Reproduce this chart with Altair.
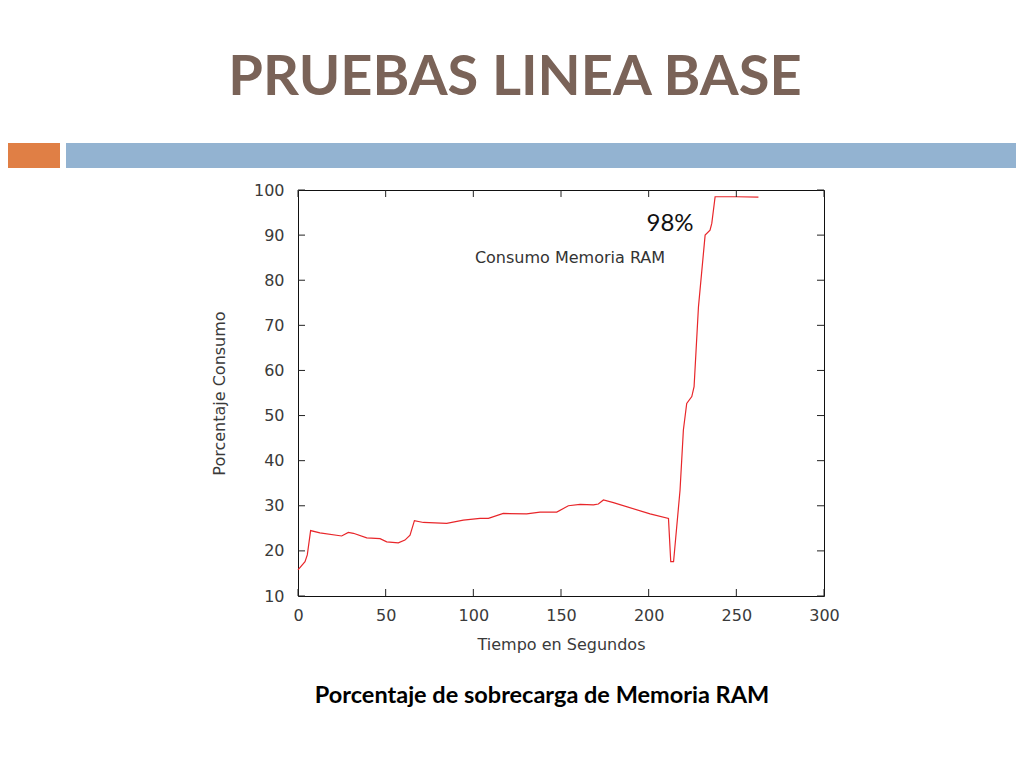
import altair as alt
import pandas as pd

# Data
tiempo = [0, 4, 5.3, 7.2, 12.5, 24.9, 28.7, 31.6, 39.2, 46.8, 50.6, 57.2, 61, 63.9,
          66.4, 71.5, 84.8, 94.3, 103.8, 108.6, 117.1, 130.4, 138, 147.6, 154.2,
          160.9, 168.5, 171.3, 174.2, 179.9, 200.8, 211.3, 212.6, 214.2, 217.9,
          219.8, 221.7, 224.6, 225.9, 228.4, 232.2, 235, 236, 237.9, 250.3, 262.6]
consumo = [15.8, 17.6, 19.1, 24.5, 24.0, 23.3, 24.1, 23.9, 22.9, 22.7, 22.0, 21.8,
           22.4, 23.5, 26.7, 26.3, 26.1, 26.8, 27.2, 27.2, 28.3, 28.2, 28.6, 28.6,
           30.0, 30.3, 30.2, 30.4, 31.3, 30.7, 28.2, 27.2, 17.6, 17.6, 33.5,
           46.8, 52.7, 54.2, 56.4, 74.1, 90.0, 91.1, 92.6, 98.5, 98.5, 98.4]
x_ticks = [0, 50, 100, 150, 200, 250, 300]
y_ticks = [10, 20, 30, 40, 50, 60, 70, 80, 90, 100]

titulo = "PRUEBAS LINEA BASE"
subtitulo = "Porcentaje de sobrecarga de Memoria RAM"
leyenda = "Consumo Memoria RAM"
anotacion = "98%"

W, H = 526, 406
FONT = "DejaVu Sans"

df = pd.DataFrame({"t": tiempo, "c": consumo})
xt = pd.DataFrame({"v": x_ticks})
yt = pd.DataFrame({"v": y_ticks})

xscale = alt.Scale(domain=[0, 300], nice=False)
yscale = alt.Scale(domain=[10, 100], nice=False)

line = alt.Chart(df).mark_line(color="#e8262a", strokeWidth=1.2).encode(
    x=alt.X("t:Q", scale=xscale,
            axis=alt.Axis(title="Tiempo en Segundos", values=x_ticks, ticks=False,
                          domain=False, grid=False, labelPadding=11, labelFlush=False,
                          labelFontSize=16, labelColor="#3a3a3a", labelFont=FONT,
                          titleFont=FONT, titleFontSize=16, titleFontWeight="normal",
                          titleColor="#3a3a3a", titlePadding=13)),
    y=alt.Y("c:Q", scale=yscale,
            axis=alt.Axis(title="Porcentaje Consumo", values=y_ticks, ticks=False,
                          domain=False, grid=False, labelPadding=14,
                          labelFontSize=16, labelColor="#3a3a3a", labelFont=FONT,
                          titleFont=FONT, titleFontSize=16, titleFontWeight="normal",
                          titleColor="#3a3a3a", titlePadding=26)),
)

tick_len = 7
left_ticks = alt.Chart(yt).mark_rule(color="#222", strokeWidth=1).encode(
    y=alt.Y("v:Q", scale=yscale), x=alt.value(0), x2=alt.value(tick_len))
right_ticks = alt.Chart(yt).mark_rule(color="#222", strokeWidth=1).encode(
    y=alt.Y("v:Q", scale=yscale), x=alt.value(W - tick_len), x2=alt.value(W))
bottom_ticks = alt.Chart(xt).mark_rule(color="#222", strokeWidth=1).encode(
    x=alt.X("v:Q", scale=xscale), y=alt.value(H), y2=alt.value(H - tick_len))
top_ticks = alt.Chart(xt).mark_rule(color="#222", strokeWidth=1).encode(
    x=alt.X("v:Q", scale=xscale), y=alt.value(0), y2=alt.value(tick_len))

base = alt.Chart(pd.DataFrame({"a": [0]}))

legend_text = base.mark_text(text=leyenda, font=FONT, fontSize=16, color="#333333",
                             align="center", baseline="middle").encode(
    x=alt.value(272), y=alt.value(68))
note_text = base.mark_text(text=anotacion, font="Lato", fontSize=24, color="#111111",
                           align="center", baseline="middle").encode(
    x=alt.value(372), y=alt.value(34))

title_text = base.mark_text(text=titulo, font="Lato", fontWeight="bold", fontSize=56,
                            color="#7a6358", align="center", baseline="middle").encode(
    x=alt.value(217), y=alt.value(-112))
sub_text = base.mark_text(text=subtitulo, font="Lato", fontWeight="bold", fontSize=23.5,
                          color="#000000", align="center", baseline="middle").encode(
    x=alt.value(244), y=alt.value(506))

orange = base.mark_rect(color="#e07f45").encode(
    x=alt.value(-310), x2=alt.value(-238), y=alt.value(-47), y2=alt.value(-22))
blue = base.mark_rect(color="#93b3d1").encode(
    x=alt.value(-232), x2=alt.value(740), y=alt.value(-47), y2=alt.value(-22))

chart = alt.layer(
    orange, blue, title_text, sub_text,
    line, left_ticks, right_ticks, bottom_ticks, top_ticks, legend_text, note_text,
).properties(
    width=W, height=H,
    autosize=alt.AutoSizeParams(type="none"),
    padding={"left": 290, "top": 182, "right": 192, "bottom": 160},
    background="white",
).configure_view(stroke="#111111", strokeWidth=1)

chart.save("out.html", embed_options={"renderer": "svg", "actions": False})
